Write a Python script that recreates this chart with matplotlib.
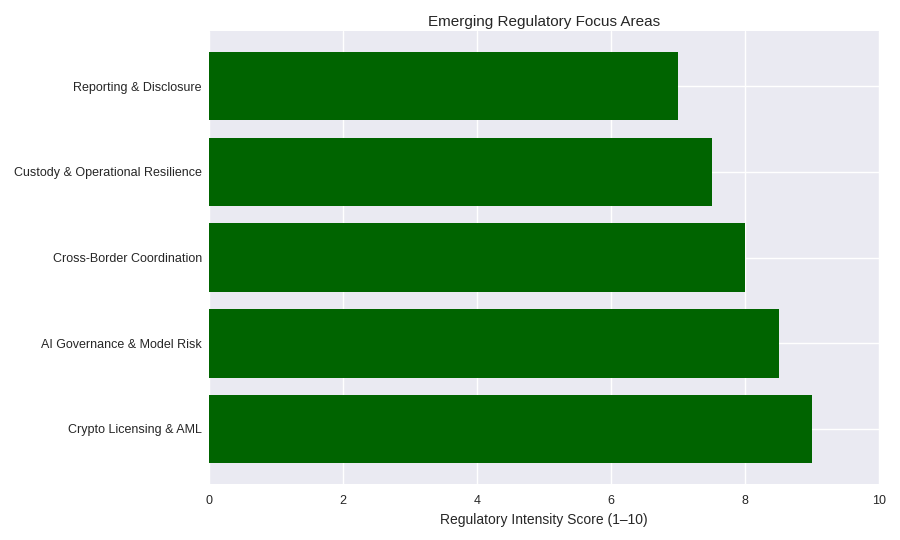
import matplotlib
matplotlib.use("Agg")
import matplotlib.pyplot as plt

plt.style.use("seaborn-v0_8")
plt.rcParams["font.family"] = ["Liberation Sans", "DejaVu Sans"]

areas = [
    "Crypto Licensing & AML",
    "AI Governance & Model Risk",
    "Cross-Border Coordination",
    "Custody & Operational Resilience",
    "Reporting & Disclosure",
]
scores = [9.0, 8.5, 8.0, 7.5, 7.0]

fig, ax = plt.subplots(figsize=(9, 5.4), dpi=100)
ax.barh(areas, scores, color="darkgreen")
ax.set_xlim(0, 10)
ax.set_title("Emerging Regulatory Focus Areas", fontsize=11, pad=4)
ax.set_xlabel("Regulatory Intensity Score (1\u201310)", fontsize=10)
ax.tick_params(axis="x", labelsize=9, pad=8)
ax.tick_params(axis="y", labelsize=9, pad=5)
fig.subplots_adjust(left=0.232, right=0.977, top=0.942, bottom=0.104)
fig.savefig("out.png")
